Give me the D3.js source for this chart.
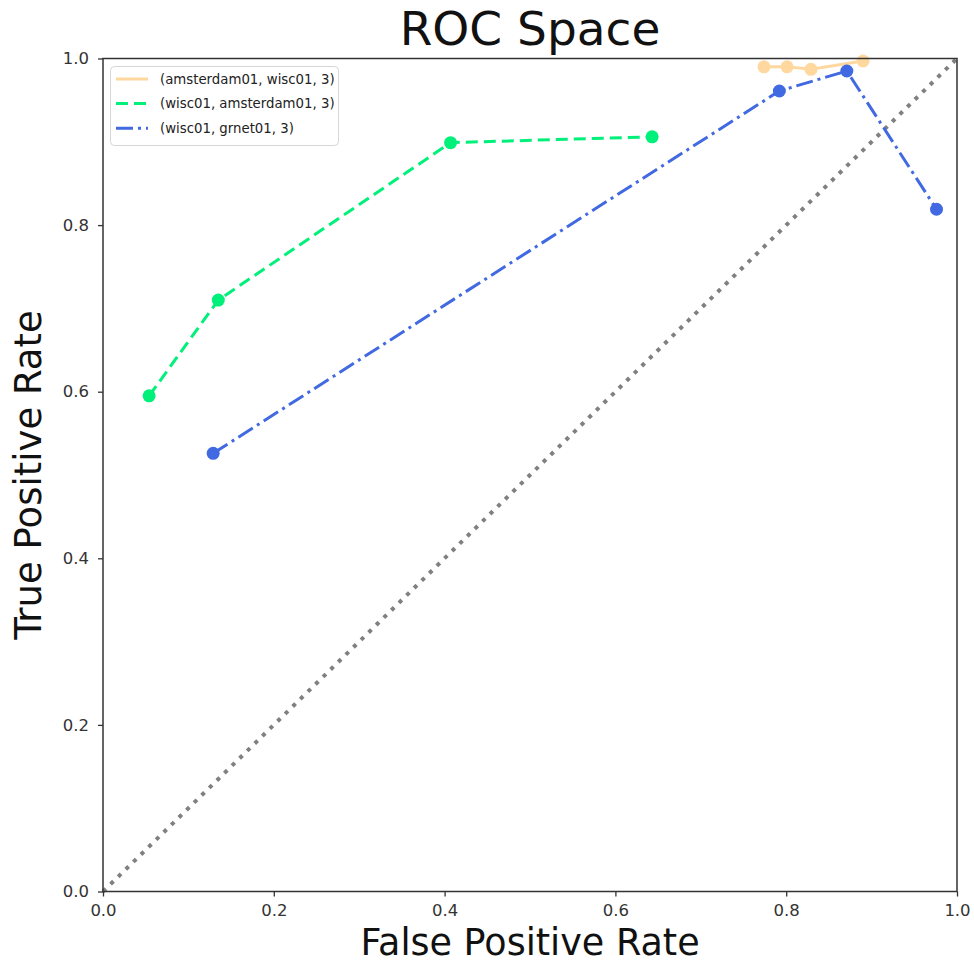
<!DOCTYPE html>
<html>
<head>
<meta charset="utf-8">
<script src="https://cdn.jsdelivr.net/npm/d3@7"></script>
<style>
  body { margin: 0; background: #fff; }
  text { font-family: "DejaVu Sans", sans-serif; }
</style>
</head>
<body>
<svg id="chart" width="974" height="965"></svg>
<script>
// ---- data ----
const seriesNames = ["(amsterdam01, wisc01, 3)", "(wisc01, amsterdam01, 3)", "(wisc01, grnet01, 3)"];
const fprAmsWisc = [0.774, 0.801, 0.829, 0.890];
const tprAmsWisc = [0.990, 0.990, 0.987, 0.997];
const fprWiscAms = [0.054, 0.135, 0.407, 0.643];
const tprWiscAms = [0.595, 0.710, 0.899, 0.906];
const fprWiscGrnet = [0.129, 0.792, 0.871, 0.976];
const tprWiscGrnet = [0.526, 0.961, 0.985, 0.819];
const tickValues = [0.0, 0.2, 0.4, 0.6, 0.8, 1.0];
const diagonal = [[0, 0], [1, 1]];

const seriesColors = ["#ffd8a0", "#00f07a", "#4169e1"];
const seriesDash = [null, "12,6", "17,5,3,5"];

const series = [
  { name: seriesNames[0], xs: fprAmsWisc, ys: tprAmsWisc },
  { name: seriesNames[1], xs: fprWiscAms, ys: tprWiscAms },
  { name: seriesNames[2], xs: fprWiscGrnet, ys: tprWiscGrnet }
].map((s, i) => ({ ...s, color: seriesColors[i], dash: seriesDash[i],
  pts: s.xs.map((x, j) => [x, s.ys[j]]) }));

// ---- layout ----
const L = 103, R = 957, T = 58.5, B = 891.5;
const svg = d3.select("#chart");
const x = d3.scaleLinear().domain([0, 1]).range([L, R]);
const y = d3.scaleLinear().domain([0, 1]).range([B, T]);

// diagonal
svg.append("path")
  .attr("d", d3.line().x(d => x(d[0])).y(d => y(d[1]))(diagonal))
  .attr("fill", "none").attr("stroke", "#808080")
  .attr("stroke-width", 4).attr("stroke-dasharray", "4,6.6");

const line = d3.line().x(d => x(d[0])).y(d => y(d[1]));
series.forEach(s => {
  const g = svg.append("g");
  g.append("path").attr("d", line(s.pts)).attr("fill", "none")
    .attr("stroke", s.color).attr("stroke-width", 3)
    .attr("stroke-dasharray", s.dash);
  g.selectAll("circle").data(s.pts).join("circle")
    .attr("cx", d => x(d[0])).attr("cy", d => y(d[1])).attr("r", 6.5)
    .attr("fill", s.color);
});

// axes
const fmt = d3.format(".1f");
const xAxis = svg.append("g").attr("transform", `translate(0,${B})`)
  .call(d3.axisBottom(x).tickValues(tickValues).tickFormat(fmt).tickSize(5).tickPadding(8));
const yAxis = svg.append("g").attr("transform", `translate(${L},0)`)
  .call(d3.axisLeft(y).tickValues(tickValues).tickFormat(fmt).tickSize(5).tickPadding(9));
[xAxis, yAxis].forEach(a => {
  a.select(".domain").remove();
  a.selectAll("line").attr("stroke", "#333").attr("stroke-width", 1.3);
  a.selectAll("text").attr("font-size", 16.5).attr("fill", "#333")
    .attr("font-family", "DejaVu Sans");
});

// frame
svg.append("rect").attr("x", L).attr("y", T).attr("width", R - L).attr("height", B - T)
  .attr("fill", "none").attr("stroke", "#333").attr("stroke-width", 1.5);

// labels
svg.append("text").attr("x", (L + R) / 2).attr("y", 45).attr("text-anchor", "middle")
  .attr("font-size", 47).attr("fill", "#111").text("ROC Space");
svg.append("text").attr("x", (L + R) / 2).attr("y", 955).attr("text-anchor", "middle")
  .attr("font-size", 36.5).attr("fill", "#111").text("False Positive Rate");
svg.append("text").attr("transform", `translate(41,${(T + B) / 2}) rotate(-90)`)
  .attr("text-anchor", "middle").attr("font-size", 37).attr("fill", "#111")
  .text("True Positive Rate");

// legend
const lg = svg.append("g");
lg.append("rect").attr("x", 110.5).attr("y", 66.5).attr("width", 228).attr("height", 79)
  .attr("rx", 4).attr("fill", "#fff").attr("fill-opacity", 0.8)
  .attr("stroke", "#d6d6d6").attr("stroke-width", 1);
series.forEach((s, i) => {
  const yy = 79 + i * 24.6;
  lg.append("line").attr("x1", 116).attr("x2", 148).attr("y1", yy).attr("y2", yy)
    .attr("stroke", s.color).attr("stroke-width", 3).attr("stroke-dasharray", s.dash);
  lg.append("text").attr("x", 160).attr("y", yy).attr("dy", "0.35em")
    .attr("font-size", 13.3).attr("fill", "#222").text(s.name);
});
</script>
</body>
</html>
